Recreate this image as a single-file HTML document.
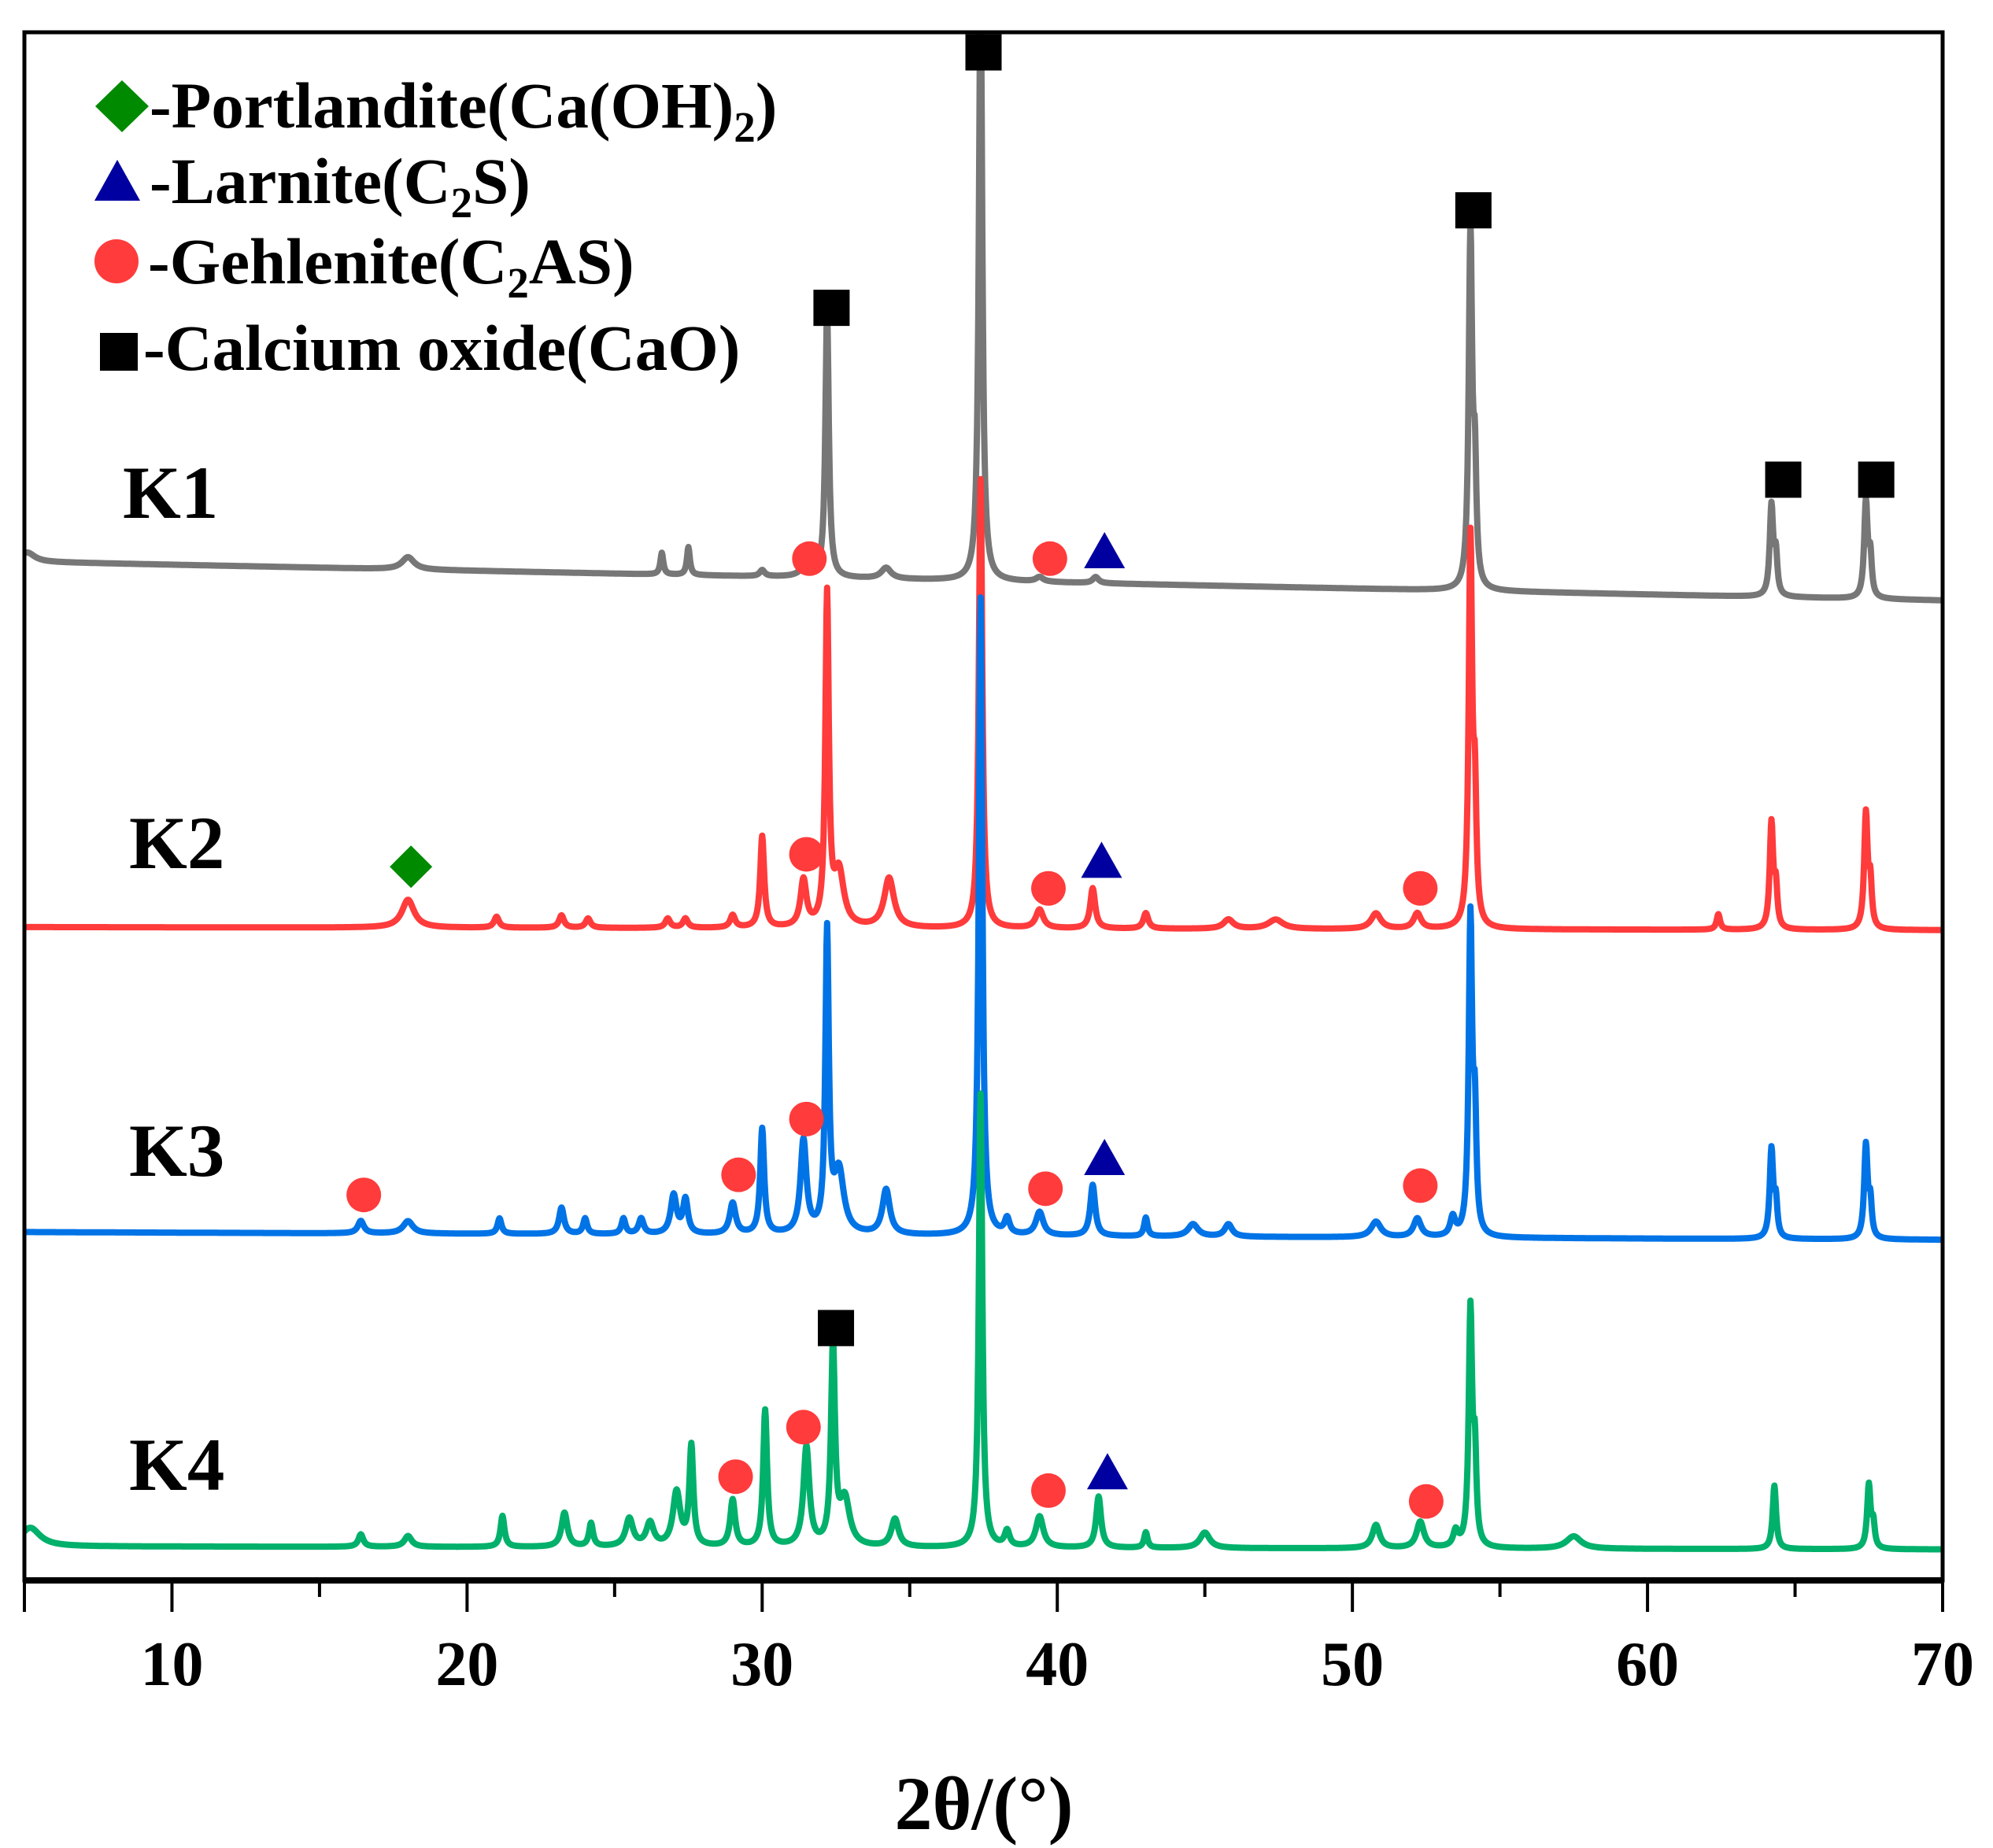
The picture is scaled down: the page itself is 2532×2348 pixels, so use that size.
<!DOCTYPE html>
<html><head><meta charset="utf-8">
<style>
html,body{margin:0;padding:0;background:#fff;}
svg{display:block;font-family:"Liberation Serif",serif;font-weight:bold;}
</style></head>
<body>
<svg id="chart" width="2532" height="2348" viewBox="0 0 2532 2348" xmlns="http://www.w3.org/2000/svg">
<defs><clipPath id="plotclip"><rect x="31" y="41" width="2437" height="1967"/></clipPath></defs>
<g id="series" clip-path="url(#plotclip)"></g>
<g id="markers"></g>
<g id="axes"></g>
<g font-size="83">
  <polygon points="155,102 189,135 155,168 121,135" fill="#008a00"/>
  <text x="190" y="162">-Portlandite(Ca(OH)<tspan font-size="55" dy="18">2</tspan><tspan dy="-18">)</tspan></text>
  <polygon points="149,203 178,255 120,255" fill="#0000a0"/>
  <text x="190" y="258">-Larnite(C<tspan font-size="55" dy="18">2</tspan><tspan dy="-18">S)</tspan></text>
  <ellipse cx="148" cy="332" rx="28" ry="28" fill="#ff3b3b"/>
  <text x="188" y="360">-Gehlenite(C<tspan font-size="55" dy="18">2</tspan><tspan dy="-18">AS)</tspan></text>
  <rect x="127" y="423" width="48" height="48" fill="#000"/>
  <text x="182" y="470">-Calcium oxide(CaO)</text>
</g>
<g font-size="95">
  <text x="156" y="658">K1</text>
  <text x="164" y="1103">K2</text>
  <text x="164" y="1494">K3</text>
  <text x="164" y="1893">K4</text>
</g>
<text x="1250" y="2324" font-size="96" text-anchor="middle">2θ/(°)</text>
</svg>
<script>
// ---- data ----
const xTicks = [10, 20, 30, 40, 50, 60, 70];
const xMinorTicks = [15, 25, 35, 45, 55, 65];
const seriesNames = ['K1', 'K2', 'K3', 'K4'];
const seriesColors = ['#777777', '#ff3b3b', '#0073e6', '#00b06b'];
// baseline offset at 5° and 70° (a.u.)
const baseStart = [658, 422, 225, 22];
const baseEnd = [633, 420, 220, 20];
// peak positions (2θ), heights (a.u.), half widths (°)
const k1Pos = [5.1, 18.0, 26.6, 27.5, 30.0, 31.5, 32.2, 34.2, 37.4, 39.4, 41.3, 54.0, 54.15, 64.2, 64.35, 67.4, 67.55];
const k1Amp = [6, 8, 14, 18, 4, 8, 172, 7, 390, 3, 4, 229, 70, 58, 25, 62, 25];
const k1Wid = [0.3, 0.25, 0.06, 0.06, 0.1, 0.2, 0.07, 0.2, 0.07, 0.15, 0.12, 0.07, 0.06, 0.07, 0.06, 0.07, 0.06];
const k2Pos = [18.0, 21.0, 23.2, 24.1, 26.8, 27.4, 29.0, 30.0, 31.4, 32.2, 32.6, 34.3, 37.4, 39.4, 41.2, 43.0, 45.8, 47.4, 50.8, 52.2, 54.0, 54.15, 62.4, 64.2, 64.35, 67.4, 67.55];
const k2Amp = [18, 7, 8, 6, 6, 6, 8, 59, 30, 212, 35, 32, 290, 12, 26, 10, 6, 6, 10, 10, 249, 75, 10, 68, 25, 74, 28];
const k2Wid = [0.25, 0.1, 0.1, 0.1, 0.1, 0.1, 0.1, 0.08, 0.12, 0.07, 0.2, 0.2, 0.07, 0.15, 0.1, 0.1, 0.2, 0.3, 0.2, 0.15, 0.07, 0.06, 0.07, 0.07, 0.06, 0.07, 0.06];
const k3Pos = [16.4, 18.0, 21.1, 23.2, 24.0, 25.3, 25.9, 27.0, 27.4, 29.0, 30.0, 31.4, 32.2, 32.6, 34.2, 37.4, 38.3, 39.4, 41.2, 43.0, 44.6, 45.8, 50.8, 52.2, 53.4, 54.0, 54.15, 64.2, 64.35, 67.4, 67.55];
const k3Amp = [8, 8, 10, 17, 10, 10, 10, 25, 22, 20, 68, 60, 192, 40, 29, 412, 10, 15, 33, 12, 8, 8, 10, 12, 12, 204, 70, 57, 22, 60, 22];
const k3Wid = [0.12, 0.2, 0.08, 0.1, 0.08, 0.08, 0.1, 0.12, 0.1, 0.12, 0.08, 0.12, 0.07, 0.2, 0.15, 0.07, 0.1, 0.15, 0.1, 0.07, 0.2, 0.15, 0.2, 0.15, 0.1, 0.07, 0.06, 0.07, 0.06, 0.07, 0.06];
const k4Pos = [5.2, 16.4, 18.0, 21.2, 23.3, 24.2, 25.5, 26.2, 27.1, 27.6, 29.0, 30.1, 31.5, 32.4, 32.8, 34.5, 37.4, 38.3, 39.4, 41.4, 43.0, 45.0, 50.8, 52.3, 53.5, 54.0, 54.15, 57.5, 64.3, 67.5, 67.65];
const k4Amp = [12, 8, 7, 20, 22, 15, 18, 15, 35, 64, 30, 88, 64, 128, 30, 18, 293, 10, 20, 33, 10, 10, 15, 17, 10, 152, 55, 8, 41, 41, 15];
const k4Wid = [0.4, 0.1, 0.15, 0.08, 0.12, 0.08, 0.15, 0.15, 0.15, 0.08, 0.1, 0.08, 0.12, 0.08, 0.2, 0.15, 0.07, 0.1, 0.15, 0.1, 0.07, 0.2, 0.15, 0.15, 0.1, 0.07, 0.06, 0.3, 0.07, 0.07, 0.06];
const peakPos = [k1Pos, k2Pos, k3Pos, k4Pos];
const peakAmp = [k1Amp, k2Amp, k3Amp, k4Amp];
const peakWid = [k1Wid, k2Wid, k3Wid, k4Wid];
// phase markers: [2θ, a.u.]
const squareMarks = [[37.5, 987], [32.35, 822], [54.1, 885], [64.6, 711], [67.75, 711], [32.5, 163]];
const circleMarks = [[31.6, 660], [39.75, 660], [31.5, 469], [39.7, 447], [52.3, 447], [16.5, 249], [29.2, 262], [31.5, 298], [39.6, 253], [52.3, 255], [29.1, 67], [31.4, 99], [39.7, 58], [52.5, 51]];
const triangleMarks = [[41.6, 665], [41.5, 465], [41.6, 273], [41.7, 70]];
const diamondMarks = [[18.1, 461]];

// ---- scales ----
const X0 = 31, X1 = 2468, Y0 = 2008, Y1 = 41;
function xs(v) { return X0 + (v - 5) * (X1 - X0) / 65; }
function ys(v) { return Y0 - v * (Y0 - Y1) / 1000; }
const NS = 'http://www.w3.org/2000/svg';
function mk(tag, attrs, parent) {
  const e = document.createElementNS(NS, tag);
  for (const k in attrs) e.setAttribute(k, attrs[k]);
  parent.appendChild(e);
  return e;
}

// ---- series ----
const sg = document.getElementById('series');
for (let s = 0; s < 4; s++) {
  let d = '';
  for (let i = 0; i <= 3250; i++) {
    const t = 5 + i * 0.02;
    let v = baseStart[s] + (baseEnd[s] - baseStart[s]) * (t - 5) / 65;
    const P = peakPos[s], A = peakAmp[s], W = peakWid[s];
    for (let j = 0; j < P.length; j++) {
      const u = (t - P[j]) / W[j];
      v += A[j] / (1 + u * u);
    }
    d += (i ? 'L' : 'M') + xs(t).toFixed(1) + ',' + ys(v).toFixed(1);
  }
  const p = mk('path', {d: d, fill: 'none', stroke: seriesColors[s], 'stroke-width': 8, 'stroke-linejoin': 'round'}, sg);
  
  
}

// ---- markers ----
const mg = document.getElementById('markers');
squareMarks.forEach(m => {
  const r = mk('rect', {x: xs(m[0]) - 23, y: ys(m[1]) - 23, width: 46, height: 46, fill: '#000'}, mg);
  
  
});
circleMarks.forEach(m => {
  const c = mk('circle', {cx: xs(m[0]), cy: ys(m[1]), r: 22, fill: '#ff3b3b'}, mg);
  
  
});
triangleMarks.forEach(m => {
  const x = xs(m[0]), y = ys(m[1]);
  const t = mk('polygon', {points: `${x},${y - 24} ${x + 26},${y + 22} ${x - 26},${y + 22}`, fill: '#0000a0'}, mg);
  
  
});
diamondMarks.forEach(m => {
  const x = xs(m[0]), y = ys(m[1]);
  const t = mk('polygon', {points: `${x},${y - 27} ${x + 27},${y} ${x},${y + 27} ${x - 27},${y}`, fill: '#008a00'}, mg);
  
  
});

// ---- axes ----
const ag = document.getElementById('axes');
const frame = mk('rect', {x: X0, y: Y1, width: X1 - X0, height: Y0 - Y1, fill: 'none', stroke: '#000', 'stroke-width': 5}, ag);


const xa = mk('line', {x1: X0 - 2, y1: Y0, x2: X1 + 2, y2: Y0, stroke: '#000', 'stroke-width': 8}, ag);


[5].concat(xTicks).forEach(v => {
  const l = mk('line', {x1: xs(v), y1: Y0, x2: xs(v), y2: Y0 + 40, stroke: '#000', 'stroke-width': 4}, ag);
  
  
});
xMinorTicks.forEach(v => {
  const l = mk('line', {x1: xs(v), y1: Y0, x2: xs(v), y2: Y0 + 21, stroke: '#000', 'stroke-width': 4}, ag);
  
  
});
xTicks.forEach(v => {
  const t = mk('text', {x: xs(v), y: 2141, 'font-size': 80, 'text-anchor': 'middle'}, ag);
  t.textContent = v;
  
  
});
</script>
</body></html>
